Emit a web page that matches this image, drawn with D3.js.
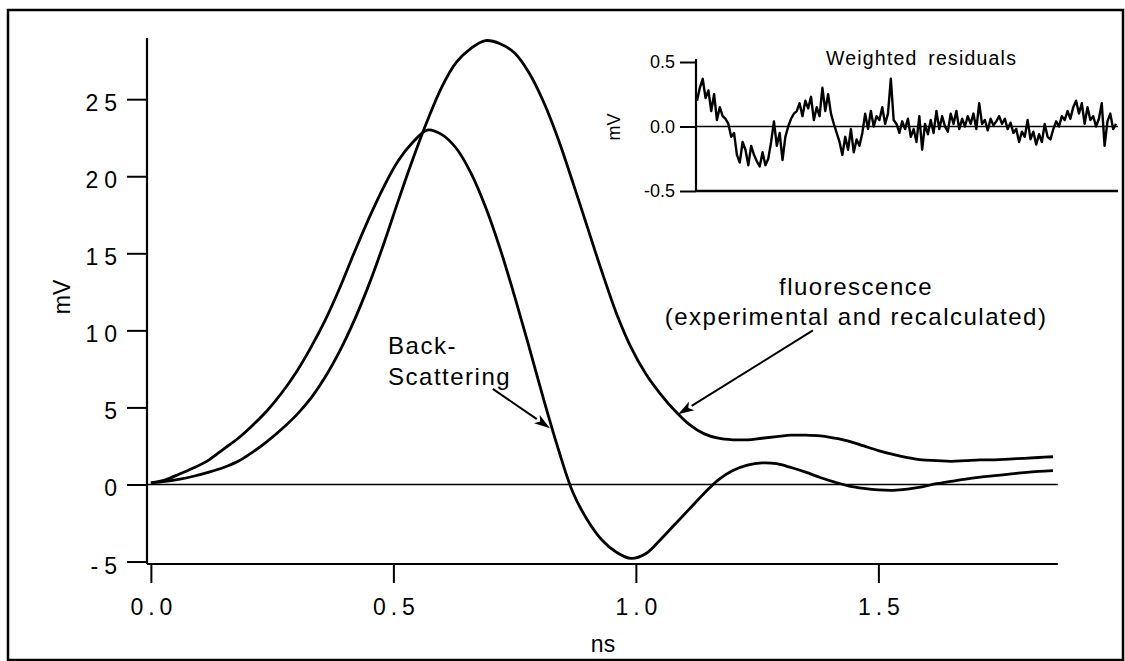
<!DOCTYPE html>
<html><head><meta charset="utf-8">
<script src="https://cdn.jsdelivr.net/npm/d3@7"></script>
<style>
html,body{margin:0;padding:0;background:#fff;}
svg{display:block;}
text{font-family:"Liberation Sans",Arial,Helvetica,sans-serif;fill:#000;}
</style></head><body>
<svg id="chart" width="1125" height="661"></svg>
<script>
// ---- data ----
const timeNs = [0.00,0.03,0.06,0.09,0.12,0.15,0.18,0.21,0.24,0.27,0.30,0.33,0.36,0.39,0.42,0.45,0.48,0.51,0.54,0.57,0.60,0.63,0.66,0.69,0.72,0.75,0.78,0.81,0.84,0.87,0.90,0.93,0.96,0.99,1.02,1.05,1.08,1.11,1.14,1.17,1.20,1.23,1.26,1.29,1.32,1.35,1.38,1.41,1.44,1.47,1.50,1.53,1.56,1.59,1.62,1.65,1.68,1.71,1.74,1.77,1.80,1.83,1.86];
const fluorescence = [0.1,0.2,0.35,0.55,0.8,1.1,1.5,2.1,2.8,3.6,4.5,5.6,7.0,8.7,10.7,13.0,15.6,18.4,21.1,23.6,25.8,27.4,28.3,28.8,28.6,28.0,26.7,24.8,22.4,19.6,16.7,13.8,11.1,8.9,7.2,5.9,4.8,3.9,3.3,3.0,2.9,2.9,3.0,3.1,3.2,3.2,3.15,3.0,2.8,2.5,2.2,1.95,1.75,1.6,1.55,1.5,1.55,1.6,1.6,1.65,1.7,1.75,1.8];
const backScattering = [0.1,0.3,0.7,1.1,1.6,2.3,3.0,3.85,4.8,5.95,7.3,8.9,10.7,12.8,15.1,17.3,19.3,21.0,22.2,23.0,22.7,21.8,20.2,18.0,15.3,12.2,8.9,5.5,2.3,-0.5,-2.3,-3.6,-4.4,-4.8,-4.5,-3.6,-2.6,-1.6,-0.6,0.3,0.9,1.25,1.4,1.35,1.1,0.8,0.45,0.15,-0.1,-0.25,-0.35,-0.38,-0.3,-0.15,0.05,0.2,0.35,0.47,0.57,0.67,0.77,0.85,0.9];
const residuals = [0.20,0.30,0.37,0.22,0.28,0.12, 0.25,0.05,0.15,0.08,0.06, 0.02,-0.08,-0.05,-0.22,
 -0.28,-0.12,-0.18,-0.30,-0.15,-0.22, -0.27,-0.31,-0.20,-0.30,-0.25,-0.12, 0.04,-0.15,-0.05,-0.26,
 -0.08,0.0,0.06,0.10, 0.12,0.18,0.08,0.20,0.14,0.23, 0.05,0.15,0.08,0.30,0.12,0.25, 0.10,0.02,-0.05,-0.12,
 -0.22,-0.08,-0.18,-0.02,-0.20,-0.10,-0.15, -0.05,0.10,-0.02,0.12,0.0,0.08, 0.05,0.15,0.02,0.10,0.37,0.05,
 0.02,-0.05,0.04,-0.02,0.06,-0.08, -0.02,-0.12,0.08,-0.18,0.02,-0.06, 0.05,-0.05,0.12,-0.02,0.08,0.0,
 -0.04,0.10,0.02,0.12,-0.02,0.06, 0.0,0.08,0.02,0.10,-0.02,0.18, 0.02,0.05,-0.03,0.06,0.01,0.04,
 0.08,0.02,0.06,-0.02,0.03,-0.05, -0.02,-0.12,-0.04,-0.08,0.05,-0.10, -0.04,-0.14,-0.06,-0.12,0.02,-0.08,
 -0.10,-0.02,0.04,0.0,0.08,0.05, 0.12,0.06,0.15,0.20,0.10,0.18, 0.02,0.15,0.05,0.08,0.0,0.06,
 0.18,-0.15,0.04,0.10,-0.02,0.02];
const mainYTicks = [-5,0,5,10,15,20,25];
const mainXTicks = [0.0,0.5,1.0,1.5];
const insetYTicks = [-0.5,0.0,0.5];
// annotation anchor points in data units [ns, mV]
const bsLabel = {text:["Back-","Scattering"], at:[[0.489,8.45],[0.489,6.45]]};
const bsArrow = {from:[0.705,6.2], to:[0.823,3.65]};
const flLabel = {text:["fluorescence","(experimental and recalculated)"], at:[[1.454,12.3],[1.454,10.35]]};
const flArrow = {from:[1.365,10.0], to:[1.087,4.55]};

// ---- drawing ----
const svg = d3.select("#chart");
svg.append("rect").attr("x",8).attr("y",10).attr("width",1115).attr("height",650)
  .attr("fill","none").attr("stroke","#000").attr("stroke-width",2.5);

const x = d3.scaleLinear().domain([-0.008,1.87]).range([147,147+1.878*485]);
const y = d3.scaleLinear().domain([-5.16,28.97]).range([564,38]);

const g = svg.append("g");
// y axis
const yAx = g.append("g").attr("transform",`translate(${x(-0.008)},0)`)
  .call(d3.axisLeft(y).tickValues(mainYTicks).tickSize(20).tickPadding(4)
    .tickFormat(d => d < 0 ? "-" + Math.abs(d) : String(d)));
yAx.select(".domain").remove();
yAx.selectAll(".tick line").attr("stroke","#000").attr("stroke-width",2);
yAx.selectAll(".tick text").attr("font-size",23).attr("letter-spacing","6px")
  .attr("dy","0.5em").attr("font-family","Liberation Sans, Arial, sans-serif");
// x axis
const xAx = g.append("g").attr("transform",`translate(0,${y(-5.16)})`)
  .call(d3.axisBottom(x).tickValues(mainXTicks).tickSize(19).tickPadding(16).tickFormat(d3.format(".1f")));
xAx.select(".domain").remove();
xAx.selectAll(".tick line").attr("stroke","#000").attr("stroke-width",2);
xAx.selectAll(".tick text").attr("font-size",23).attr("letter-spacing","5px").attr("dx","2.5px")
  .attr("font-family","Liberation Sans, Arial, sans-serif");
// axis lines
g.append("line").attr("x1",x(-0.008)).attr("x2",x(-0.008)).attr("y1",y(28.97)).attr("y2",y(-5.16))
  .attr("stroke","#000").attr("stroke-width",2.2);
g.append("line").attr("x1",x(-0.008)).attr("x2",x(1.87)).attr("y1",y(-5.16)).attr("y2",y(-5.16))
  .attr("stroke","#000").attr("stroke-width",2.2);
g.append("line").attr("x1",x(-0.008)).attr("x2",x(1.87)).attr("y1",y(0)).attr("y2",y(0))
  .attr("stroke","#000").attr("stroke-width",1.5);

// axis titles
svg.append("text").attr("transform",`translate(70,297) rotate(-90)`).attr("text-anchor","middle")
  .attr("font-size",23).text("mV");
svg.append("text").attr("x",603).attr("y",652).attr("text-anchor","middle").attr("font-size",23).text("ns");

// curves
const line = d3.line().x((d,i)=>x(timeNs[i])).y(d=>y(d)).curve(d3.curveCatmullRom.alpha(0.5));
g.append("path").datum(backScattering).attr("d",line).attr("fill","none").attr("stroke","#000")
  .attr("stroke-width",2.8).attr("stroke-linejoin","round");
g.append("path").datum(fluorescence).attr("d",line).attr("fill","none").attr("stroke","#000")
  .attr("stroke-width",2.8).attr("stroke-linejoin","round");

// annotations
function arrow(a){
  const x1=x(a.from[0]), y1=y(a.from[1]), x2=x(a.to[0]), y2=y(a.to[1]);
  const ang=Math.atan2(y2-y1,x2-x1), L=16, W=5;
  const bx=x2-L*Math.cos(ang), by=y2-L*Math.sin(ang);
  g.append("line").attr("x1",x1).attr("y1",y1).attr("x2",bx).attr("y2",by).attr("stroke","#000").attr("stroke-width",2);
  const p=[[x2,y2],[bx+W*Math.sin(ang),by-W*Math.cos(ang)],[bx+4*Math.cos(ang),by+4*Math.sin(ang)],[bx-W*Math.sin(ang),by+W*Math.cos(ang)]];
  g.append("path").attr("d","M"+p.map(q=>q.join(",")).join("L")+"Z").attr("fill","#000");
}
arrow(bsArrow); arrow(flArrow);
bsLabel.text.forEach((t,i)=>{
  g.append("text").attr("x",x(bsLabel.at[i][0])).attr("y",y(bsLabel.at[i][1])).attr("font-size",24)
    .attr("letter-spacing","1.5px").text(t);
});
flLabel.text.forEach((t,i)=>{
  g.append("text").attr("x",x(flLabel.at[i][0])).attr("y",y(flLabel.at[i][1])).attr("font-size",24)
    .attr("text-anchor","middle").attr("letter-spacing","1.5px").text(t);
});

// inset
const xi = d3.scaleLinear().domain([0,residuals.length-1]).range([697,1116]);
const yi = d3.scaleLinear().domain([-0.5,0.5]).range([191,62]);
const ig = svg.append("g");
const iyAx = ig.append("g").attr("transform",`translate(696,0)`)
  .call(d3.axisLeft(yi).tickValues(insetYTicks).tickSize(16).tickPadding(5)
    .tickFormat(d => d < 0 ? "-" + d3.format(".1f")(Math.abs(d)) : d3.format(".1f")(d)));
iyAx.select(".domain").remove();
iyAx.selectAll(".tick line").attr("stroke","#000").attr("stroke-width",2);
iyAx.selectAll(".tick text").attr("font-size",18).attr("font-family","Liberation Sans, Arial, sans-serif");
ig.append("line").attr("x1",696).attr("x2",696).attr("y1",59).attr("y2",yi(-0.5)+1).attr("stroke","#000").attr("stroke-width",2.2);
ig.append("line").attr("x1",696).attr("x2",1118).attr("y1",yi(-0.5)).attr("y2",yi(-0.5)).attr("stroke","#000").attr("stroke-width",2.5);
ig.append("line").attr("x1",696).attr("x2",1118).attr("y1",yi(0)).attr("y2",yi(0)).attr("stroke","#000").attr("stroke-width",1.5);
ig.append("path").datum(residuals).attr("d",d3.line().x((d,i)=>xi(i)).y(d=>yi(d)))
  .attr("fill","none").attr("stroke","#000").attr("stroke-width",2.4).attr("stroke-linejoin","round");
ig.append("text").attr("x",826).attr("y",65).attr("font-size",19.5).attr("letter-spacing","1.2px")
  .attr("word-spacing","4px").text("Weighted residuals");
ig.append("text").attr("transform","translate(620,127) rotate(-90)").attr("text-anchor","middle")
  .attr("font-size",18).text("mV");
</script>
</body></html>
